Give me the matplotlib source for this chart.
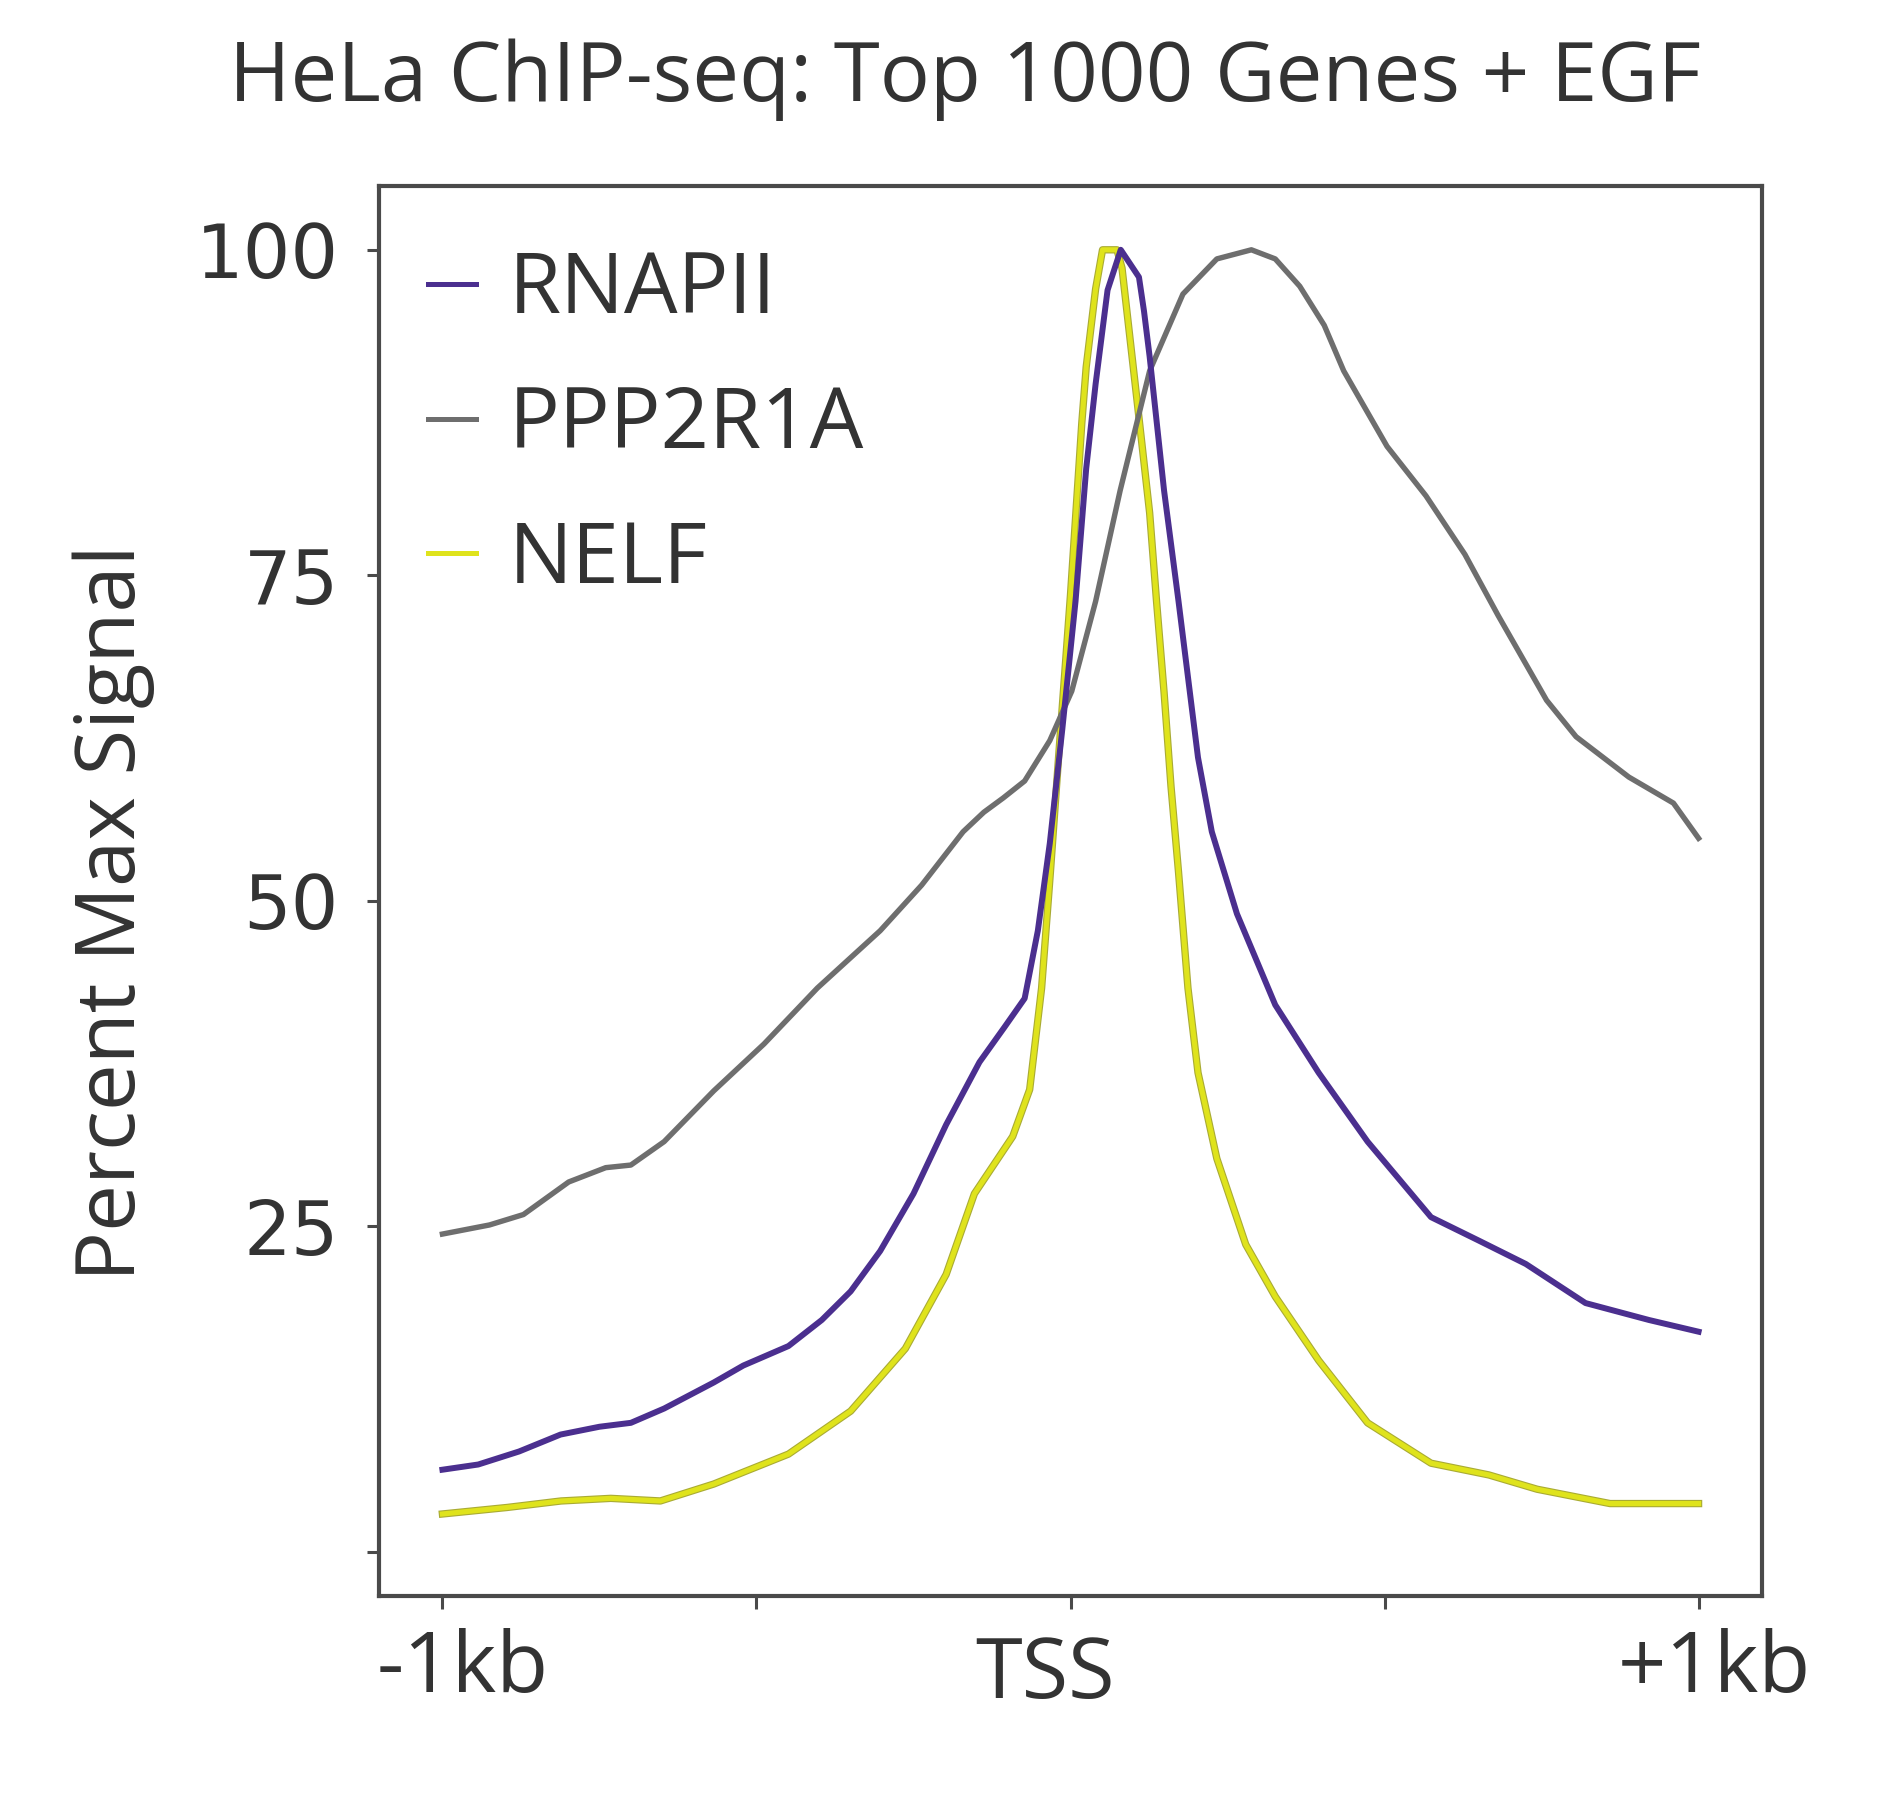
import matplotlib
matplotlib.use("Agg")
import matplotlib.pyplot as plt
import matplotlib.patheffects as pe
import matplotlib.transforms as mtransforms

# ---------------- data (position in bp relative to TSS, percent max signal) -------------
rnapii_x = [-1000, -943, -878, -812, -750, -700, -647, -568, -521, -449, -396, -350, -303,
            -250, -198, -145, -105, -73, -52, -33, -13, 8, 25, 40, 59, 80, 109, 117, 126,
            149, 172, 203, 225, 265, 326, 395, 473, 574, 650, 725, 820, 921, 1000]
rnapii_y = [6.3, 6.7, 7.7, 9.0, 9.6, 9.9, 11.0, 13.0, 14.3, 15.8, 17.8, 20.0, 23.1,
            27.5, 32.8, 37.6, 40.3, 42.5, 47.7, 54.4, 63.2, 73.0, 83.2, 89.7, 96.9, 100, 97.9, 95.3, 91.8,
            81.5, 73.0, 61.0, 55.3, 49.0, 42.0, 36.8, 31.5, 25.7, 23.9, 22.1, 19.1, 17.8, 16.9]

ppp2r1a_x = [-1000, -925, -871, -799, -740, -700, -647, -568, -488, -403, -303, -237, -171,
             -138, -107, -73, -33, 2, 40, 79, 126, 179, 233, 288, 326, 365, 404, 435, 504,
             566, 628, 681, 758, 805, 889, 960, 1000]
ppp2r1a_y = [24.4, 25.1, 25.9, 28.4, 29.5, 29.7, 31.5, 35.4, 39.0, 43.3, 47.7, 51.2, 55.3,
             56.8, 57.9, 59.2, 62.3, 66.1, 73.0, 81.5, 90.7, 96.6, 99.3, 100, 99.3, 97.2, 94.2, 90.7, 84.9,
             81.1, 76.6, 71.9, 65.4, 62.6, 59.5, 57.5, 54.8]

nelf_x = [-1000, -897, -811, -732, -653, -568, -449, -350, -263, -198, -153, -92, -65, -46,
          -32, -19, 0, 18, 25, 40, 51, 74, 82, 106, 126, 137, 149, 160, 172, 187, 203, 233,
          279, 326, 395, 473, 574, 666, 743, 859, 1000]
nelf_y = [2.9, 3.4, 3.9, 4.1, 3.9, 5.2, 7.5, 10.8, 15.6, 21.3, 27.5, 31.9, 35.5, 43.3,
          52.2, 61.0, 73.5, 86.7, 91.0, 97.0, 100, 100, 98.6, 88.4, 79.8, 73.0, 66.0, 58.8, 52.2, 43.3, 36.8, 30.2,
          23.6, 19.6, 14.7, 9.9, 6.8, 5.9, 4.8, 3.7, 3.7]

series_labels = ["RNAPII", "PPP2R1A", "NELF"]
x_ticks = [-1000, -500, 0, 500, 1000]
x_ticklabels = ["-1kb", "", "TSS", "", "+1kb"]
y_ticks = [0, 25, 50, 75, 100]
y_ticklabels = ["", "25", "50", "75", "100"]
title = "HeLa ChIP-seq: Top 1000 Genes + EGF"
ylabel = "Percent Max Signal"

# ---------------- style ----------------
C_PURPLE = "#4b2f8f"
C_GRAY = "#6e6e6e"
C_YELLOW = "#dfe31c"
C_YEDGE = "#a9ab34"
C_TEXT = "#333333"
C_SPINE = "#4a4a4a"

W, H, DPI = 1879, 1812, 100
fig = plt.figure(figsize=(W / DPI, H / DPI), dpi=DPI)
fig.patch.set_facecolor("white")

ax_l, ax_r, ax_t, ax_b = 379, 1762, 186, 1596
ax = fig.add_axes([ax_l / W, 1 - ax_b / H, (ax_r - ax_l) / W, (ax_b - ax_t) / H])

ln_y, = ax.plot(nelf_x, nelf_y, color=C_YELLOW, lw=3.7, solid_joinstyle="round",
                path_effects=[pe.Stroke(linewidth=5.3, foreground=C_YEDGE), pe.Normal()], zorder=2)
ln_g, = ax.plot(ppp2r1a_x, ppp2r1a_y, color=C_GRAY, lw=3.9, solid_joinstyle="round", zorder=3)
ln_p, = ax.plot(rnapii_x, rnapii_y, color=C_PURPLE, lw=4.3, solid_joinstyle="round", zorder=4)

ax.set_xlim(-1101, 1101)
ax.set_ylim(-3.4, 104.9)

for s in ax.spines.values():
    s.set_color(C_SPINE)
    s.set_linewidth(3.0)

ax.set_xticks(x_ticks)
ax.set_xticklabels(x_ticklabels)
ax.set_yticks(y_ticks)
ax.set_yticklabels(y_ticklabels)
ax.tick_params(axis="both", direction="out", length=9, width=2.2, color=C_SPINE, colors=C_TEXT)
ax.tick_params(axis="y", pad=20)
ax.tick_params(axis="x", pad=14)
for t in ax.get_yticklabels():
    t.set_fontfamily("DejaVu Sans")
    t.set_fontsize(54)
    t.set_color(C_TEXT)
x_offsets = [20, 0, -26, 0, 16]
x_voff = [0, 0, -6, 0, 0]
for t, dx, dy in zip(ax.get_xticklabels(), x_offsets, x_voff):
    t.set_fontfamily("Open Sans")
    t.set_fontsize(61)
    t.set_color(C_TEXT)
    t.set_transform(t.get_transform() + mtransforms.ScaledTranslation(dx / DPI, dy / DPI, fig.dpi_scale_trans))

leg = ax.legend([ln_p, ln_g, ln_y], series_labels, loc="upper left",
                bbox_to_anchor=(0.0354, 0.955), frameon=False, borderpad=0, borderaxespad=0,
                handlelength=0.57, handletextpad=0.38, labelspacing=0.6,
                prop={"family": "Open Sans", "size": 61})
for t in leg.get_texts():
    t.set_color(C_TEXT)
for h in leg.get_lines():
    h.set_linewidth(3.6)
    h.set_path_effects([])

fig.text(965 / W, 1 - 80 / H, title, ha="center", va="center", fontsize=60,
         family="Open Sans", color=C_TEXT)
fig.text(114 / W, 1 - 913 / H, ylabel, ha="center", va="center", rotation=90,
         fontsize=60, family="Open Sans", color=C_TEXT)

fig.savefig("out.png", dpi=DPI, facecolor="white")
